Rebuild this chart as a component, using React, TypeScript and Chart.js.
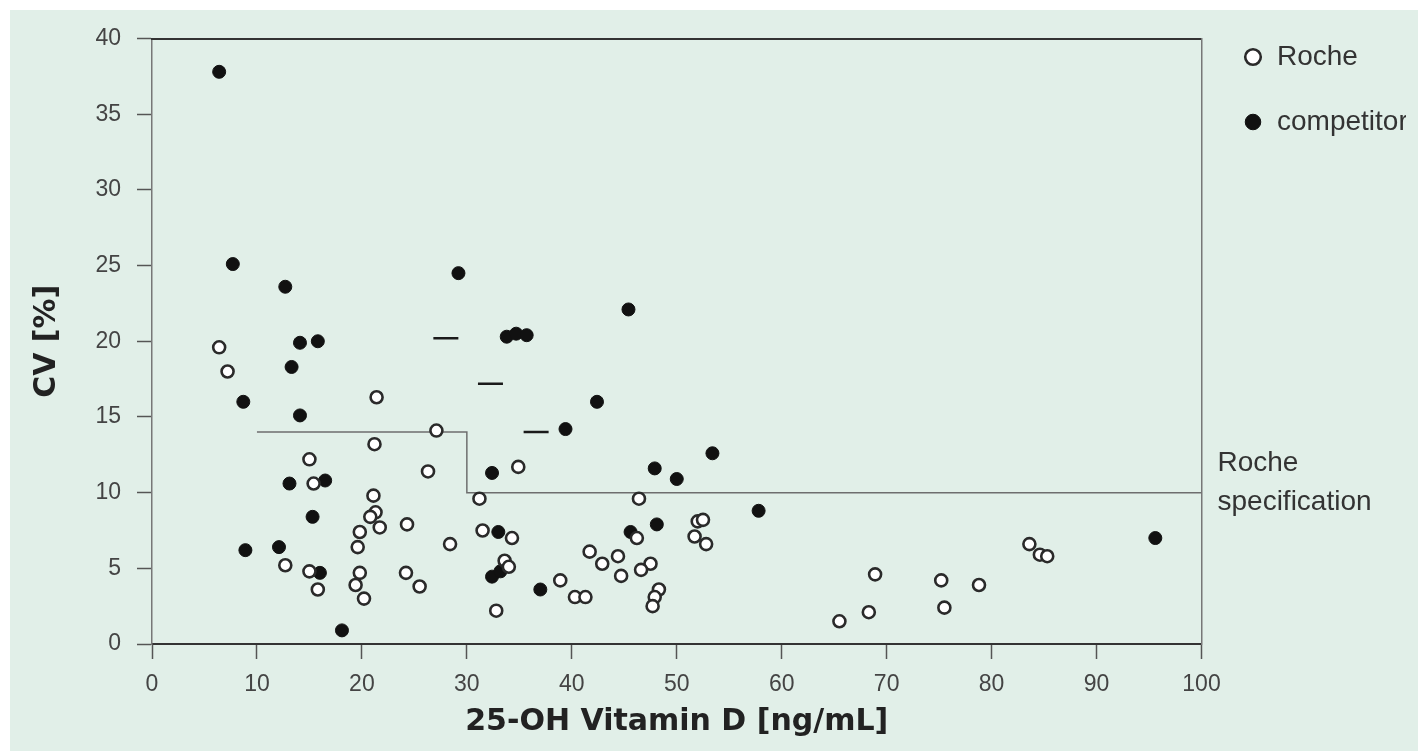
import { useEffect, useRef } from "react";
import { Chart, registerables } from "chart.js";

Chart.register(...registerables);

// ---- data ----
const rocheX = [6.4, 7.2, 21.4, 27.1, 21.2, 15.0, 26.3, 15.4, 21.1, 31.2, 21.3, 20.8, 21.7, 24.3, 19.8, 31.5, 19.6, 28.4, 12.7, 15.0, 19.8, 24.2, 19.4, 15.8, 25.5, 20.2, 32.8, 33.6, 34.0, 34.9, 46.4, 34.3, 46.2, 52.0, 52.5, 51.7, 52.8, 41.7, 44.4, 42.9, 47.5, 46.6, 44.7, 38.9, 40.3, 41.3, 48.3, 47.9, 47.7, 65.5, 68.9, 68.3, 75.2, 75.5, 78.8, 83.6, 84.6, 85.3];
const rocheY = [19.6, 18.0, 16.3, 14.1, 13.2, 12.2, 11.4, 10.6, 9.8, 9.6, 8.7, 8.4, 7.7, 7.9, 7.4, 7.5, 6.4, 6.6, 5.2, 4.8, 4.7, 4.7, 3.9, 3.6, 3.8, 3.0, 2.2, 5.5, 5.1, 11.7, 9.6, 7.0, 7.0, 8.1, 8.2, 7.1, 6.6, 6.1, 5.8, 5.3, 5.3, 4.9, 4.5, 4.2, 3.1, 3.1, 3.6, 3.1, 2.5, 1.5, 4.6, 2.1, 4.2, 2.4, 3.9, 6.6, 5.9, 5.8];

const competitorX = [6.4, 7.7, 12.7, 29.2, 14.1, 15.8, 13.3, 8.7, 14.1, 32.4, 13.1, 16.5, 15.3, 33.0, 8.9, 12.1, 16.0, 32.4, 33.2, 18.1, 45.4, 33.8, 34.7, 35.7, 42.4, 39.4, 53.4, 47.9, 50.0, 48.1, 45.6, 57.8, 37.0, 95.6];
const competitorY = [37.8, 25.1, 23.6, 24.5, 19.9, 20.0, 18.3, 16.0, 15.1, 11.3, 10.6, 10.8, 8.4, 7.4, 6.2, 6.4, 4.7, 4.45, 4.8, 0.9, 22.1, 20.3, 20.5, 20.4, 16.0, 14.2, 12.6, 11.6, 10.9, 7.9, 7.4, 8.8, 3.6, 7.0];

const dashX = [28.0, 32.25, 36.6];
const dashY = [20.2, 17.2, 14.0];

const specX = [10, 30, 30, 100];
const specY = [14, 14, 10, 10];

const seriesNames = ["Roche", "competitor"];
const specLabelLines = ["Roche", "specification"];
const xTitle = "25-OH Vitamin D [ng/mL]";
const yTitle = "CV [%]";
const xMin = 0, xMax = 100, xStep = 10;
const yMin = 0, yMax = 40, yStep = 5;

const toPoints = (xs: number[], ys: number[]) => xs.map((x, i) => ({ x, y: ys[i] }));

const tickFont = { family: "'Liberation Sans', Arial, sans-serif", size: 23 };
const titleFont = { family: "'DejaVu Sans', sans-serif", size: 30, weight: "bold" as const };

export default function App() {
  const ref = useRef<HTMLCanvasElement>(null);

  useEffect(() => {
    const canvas = ref.current;
    if (!canvas) return;

    const specLabel = {
      id: "specLabel",
      afterDraw(chart: any) {
        const { ctx, chartArea, scales } = chart;
        const y = scales.y.getPixelForValue(specY[specY.length - 1]);
        const x = chartArea.right + 16;
        ctx.save();
        ctx.font = "28px 'Liberation Sans', Arial, sans-serif";
        ctx.fillStyle = "#333";
        ctx.textBaseline = "middle";
        ctx.textAlign = "left";
        specLabelLines.forEach((t, i) => ctx.fillText(t, x, y - 29.5 + i * 39));
        ctx.restore();
      },
    };

    const chart = new Chart(canvas, {
      type: "scatter",
      data: {
        datasets: [
          {
            label: seriesNames[0],
            data: toPoints(rocheX, rocheY),
            pointStyle: "circle",
            pointRadius: 6,
            pointBackgroundColor: "#ffffff",
            pointBorderColor: "#2a2a2a",
            pointBorderWidth: 2.6,
            backgroundColor: "#ffffff",
            borderColor: "#2a2a2a",
            borderWidth: 2.2,
          },
          {
            label: seriesNames[1],
            data: toPoints(competitorX, competitorY),
            pointStyle: "circle",
            pointRadius: 6.5,
            pointBackgroundColor: "#111111",
            pointBorderColor: "#111111",
            pointBorderWidth: 1,
            backgroundColor: "#111111",
            borderColor: "#111111",
            borderWidth: 1,
          },
          {
            label: "marks",
            data: toPoints(dashX, dashY),
            pointStyle: "line",
            pointRadius: 12.5,
            pointBorderColor: "#1a1a1a",
            pointBorderWidth: 2.5,
            borderColor: "#1a1a1a",
            backgroundColor: "#1a1a1a",
          },
          {
            label: "spec",
            data: toPoints(specX, specY),
            showLine: true,
            borderColor: "#6e6e6e",
            borderWidth: 1.5,
            pointRadius: 0,
            tension: 0,
            fill: false,
          },
        ],
      },
      options: {
        responsive: false,
        animation: false,
        devicePixelRatio: 1,
        events: [],
        layout: { padding: { top: 6, left: 0, right: 12, bottom: 0 } },
        plugins: {
          legend: {
            position: "right",
            align: "start",
            maxWidth: 200,
            labels: {
              usePointStyle: true,
              boxWidth: 20,
              boxHeight: 11,
              padding: 37,
              color: "#333",
              font: { family: "'Liberation Sans', Arial, sans-serif", size: 28 },
              filter: (item: any) => item.datasetIndex < 2,
            },
          },
          tooltip: { enabled: false },
        },
        scales: {
          x: {
            type: "linear",
            position: "bottom",
            min: xMin,
            max: xMax,
            ticks: { stepSize: xStep, font: tickFont, color: "#444", padding: 11.5, maxRotation: 0, autoSkip: false },
            grid: { display: true, drawOnChartArea: false, drawTicks: true, tickLength: 15, tickColor: "#555", tickWidth: 1.5, color: "#555" },
            border: { display: true, color: "#333", width: 2 },
            title: { display: true, text: xTitle, font: titleFont, color: "#222", padding: { top: 0, bottom: 11 } },
            afterFit: (s: any) => { s.height = 107; },
          },
          y: {
            type: "linear",
            position: "left",
            min: yMin,
            max: yMax,
            ticks: { stepSize: yStep, font: tickFont, color: "#444", padding: 16 },
            grid: { display: true, drawOnChartArea: false, drawTicks: true, tickLength: 15, tickColor: "#555", tickWidth: 1.5, color: "#555" },
            border: { display: true, color: "#777", width: 1.5 },
            title: { display: true, text: yTitle, font: titleFont, color: "#222", padding: { top: 29, bottom: 0 } },
            afterFit: (s: any) => { s.width = 152; },
          },
          x2: {
            type: "linear",
            position: "top",
            min: xMin,
            max: xMax,
            display: true,
            ticks: { display: false },
            grid: { display: false, drawTicks: false },
            border: { display: true, color: "#333", width: 2 },
            afterFit: (s: any) => { s.height = 32.5; },
          },
          y2: {
            type: "linear",
            position: "right",
            min: yMin,
            max: yMax,
            display: true,
            ticks: { display: false },
            grid: { display: false, drawTicks: false },
            border: { display: true, color: "#777", width: 1.5 },
            afterFit: (s: any) => { s.width = 4.5; },
          },
        },
      } as any,
      plugins: [specLabel],
    });

    return () => chart.destroy();
  }, []);

  return (
    <div style={{ position: "fixed", left: 0, top: 0, width: 1418, height: 751, background: "#ffffff" }}>
      <div style={{ position: "absolute", left: 10, top: 10, right: 0, bottom: 0, background: "#e1efe8" }} />
      <canvas
        ref={ref}
        width={1418}
        height={751}
        style={{ position: "absolute", left: 0, top: 0, width: 1418, height: 751 }}
      />
    </div>
  );
}
